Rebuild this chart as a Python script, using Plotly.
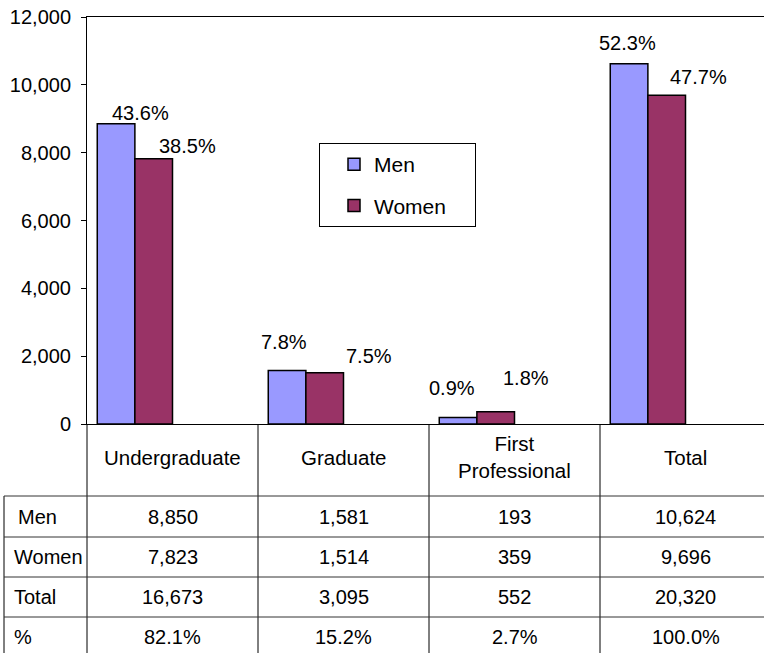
import plotly.graph_objects as go

# ---------------- data ----------------
categories = ["Undergraduate", "Graduate", "First Professional", "Total"]
category_labels = ["Undergraduate", "Graduate", "First<br>Professional", "Total"]
men = [8850, 1581, 193, 10624]
women = [7823, 1514, 359, 9696]
totals = [16673, 3095, 552, 20320]
share_of_total = ["82.1%", "15.2%", "2.7%", "100.0%"]
men_pct_labels = ["43.6%", "7.8%", "0.9%", "52.3%"]
women_pct_labels = ["38.5%", "7.5%", "1.8%", "47.7%"]
row_names = ["Men", "Women", "Total", "%"]
series_names = ["Men", "Women"]
y_ticks = [0, 2000, 4000, 6000, 8000, 10000, 12000]

# ---------------- style ----------------
FONT = "Liberation Sans, Arial, sans-serif"
FS = 20
MEN_COLOR = "#9999FF"
WOMEN_COLOR = "#993366"
W, H = 764, 654
L, R, T, B = 87, 764, 17, 424          # plot area in pixels
BAR_W = 0.22
MEN_OFF, WOMEN_OFF = -0.44, -0.22
LEGEND_PAD = "\u00a0" * 4              # widens the legend box
# label placement relative to bar centre / bar top (pixels)
men_lbl_shift = [(24, 11), (-3, 28), (-6, 29), (-2, 21)]
women_lbl_shift = [(34, 13), (44, 17), (30, 34), (32, 18)]


def py(Y):
    return (B - Y) / (B - T)


def px(X):
    return (X - L) / (R - L)


fig = go.Figure()
fig.add_trace(go.Bar(
    x=categories, y=men, name=series_names[0], width=BAR_W, offset=MEN_OFF,
    marker=dict(color=MEN_COLOR, line=dict(color="black", width=1.5)),
    legendgroup="m"))
fig.add_trace(go.Bar(
    x=categories, y=women, name=series_names[1] + LEGEND_PAD, width=BAR_W,
    offset=WOMEN_OFF,
    marker=dict(color=WOMEN_COLOR, line=dict(color="black", width=1.5)),
    legendgroup="w"))

ann = []
# percentage labels above bars
for i in range(len(categories)):
    for vals, labels, off, shifts in ((men, men_pct_labels, MEN_OFF, men_lbl_shift),
                                      (women, women_pct_labels, WOMEN_OFF, women_lbl_shift)):
        ann.append(dict(x=i + off + BAR_W / 2, y=vals[i], xref="x", yref="y",
                        text=labels[i], showarrow=False, yanchor="middle",
                        xanchor="center", xshift=shifts[i][0], yshift=shifts[i][1],
                        font=dict(family=FONT, size=FS, color="black")))

# category header row
for i, lab in enumerate(category_labels):
    ann.append(dict(x=i, y=py(457), xref="x", yref="paper", text=lab,
                    showarrow=False, xanchor="center", yanchor="middle",
                    font=dict(family=FONT, size=20.5, color="black")))

# data table
row_centres = [516.5, 557, 597, 637]
row_label_x = [16, 12, 12, 12]
table_rows = [
    [f"{v:,}" for v in men],
    [f"{v:,}" for v in women],
    [f"{v:,}" for v in totals],
    share_of_total,
]
for r, (name, vals) in enumerate(zip(row_names, table_rows)):
    ann.append(dict(x=px(row_label_x[r]), y=py(row_centres[r]), xref="paper",
                    yref="paper", text=name, showarrow=False, xanchor="left",
                    yanchor="middle", font=dict(family=FONT, size=FS, color="black")))
    for i, v in enumerate(vals):
        ann.append(dict(x=i, y=py(row_centres[r]), xref="x", yref="paper", text=v,
                        showarrow=False, xanchor="center", yanchor="middle",
                        font=dict(family=FONT, size=FS, color="black")))

shapes = []
line = dict(color="black", width=1)
# vertical dividers between categories through header + table
for b in [0.5, 1.5, 2.5]:
    shapes.append(dict(type="line", xref="x", yref="paper", x0=b, x1=b,
                       y0=py(B), y1=py(653), line=line))
# left axis continued through table
shapes.append(dict(type="line", xref="paper", yref="paper", x0=0, x1=0,
                   y0=py(B), y1=py(653), line=line))
# left border of table
shapes.append(dict(type="line", xref="paper", yref="paper", x0=px(4), x1=px(4),
                   y0=py(496), y1=py(653), line=line))
# horizontal row lines
for Y in [496, 537, 577, 617]:
    shapes.append(dict(type="line", xref="paper", yref="paper", x0=px(4), x1=1,
                       y0=py(Y), y1=py(Y), line=dict(color="#333333", width=1)))

fig.update_layout(
    width=W, height=H,
    margin=dict(l=L, r=W - R, t=T, b=H - B, pad=0),
    paper_bgcolor="white", plot_bgcolor="white",
    barmode="overlay",
    font=dict(family=FONT, size=FS, color="black"),
    showlegend=True,
    legend=dict(x=px(319), y=py(143), xanchor="left", yanchor="top",
                bordercolor="black", borderwidth=1, bgcolor="white",
                font=dict(family=FONT, size=21, color="black"),
                tracegroupgap=11, indentation=14),
    annotations=ann,
    shapes=shapes,
)
fig.update_xaxes(range=[-0.5, -0.5 + (R - L) / 171.0], showticklabels=False,
                 ticks="", showline=True, mirror=True, linecolor="black",
                 linewidth=1, showgrid=False, zeroline=False, fixedrange=True)
fig.update_yaxes(range=[0, 12000], tickvals=y_ticks,
                 ticktext=[f"{v:,}" for v in y_ticks], ticks="outside", ticklen=5,
                 tickcolor="black", showline=True, linecolor="black", linewidth=1,
                 showgrid=False, zeroline=False, ticklabelstandoff=6,
                 tickfont=dict(family=FONT, size=FS, color="black"), fixedrange=True)

fig.write_html("out.html", config={"displayModeBar": False},
               post_script="document.body.style.margin='0';document.body.style.overflow='hidden';")
